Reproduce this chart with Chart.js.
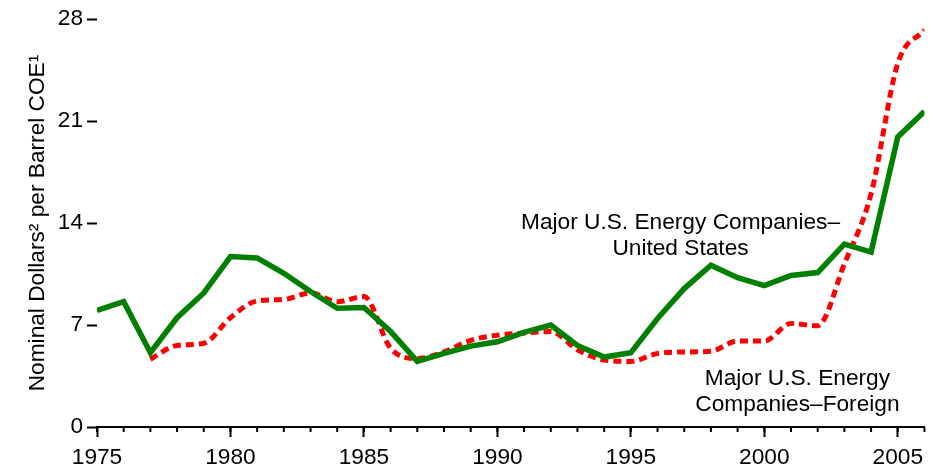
<!DOCTYPE html>
<html>
<head>
<meta charset="utf-8">
<script src="https://cdn.jsdelivr.net/npm/chart.js@4"></script>
<style>
  html, body { margin: 0; padding: 0; background: #fff; }
  #wrap { width: 930px; height: 464px; }
</style>
</head>
<body>
<div id="wrap"><canvas id="costChart" width="930" height="464"></canvas></div>
<script>
// years on the x axis
const years = [1975, 1976, 1977, 1978, 1979, 1980, 1981, 1982, 1983, 1984, 1985,
  1986, 1987, 1988, 1989, 1990, 1991, 1992, 1993, 1994, 1995, 1996, 1997, 1998,
  1999, 2000, 2001, 2002, 2003, 2004, 2005, 2006];

// Major U.S. Energy Companies - United States
const usValues = [8.0, 8.6, 5.1, 7.5, 9.2, 11.7, 11.6, 10.55, 9.3, 8.15, 8.2,
  6.55, 4.5, 5.05, 5.55, 5.85, 6.5, 7.0, 5.6, 4.8, 5.1, 7.45, 9.5, 11.1,
  10.25, 9.7, 10.4, 10.6, 12.55, 12.0, 19.9, 21.65];

// Major U.S. Energy Companies - Foreign (starts 1977)
const foreignValues = [null, null, 4.65, 5.6, 5.75, 7.5, 8.65, 8.75, 9.2, 8.6, 8.95,
  5.4, 4.7, 5.15, 5.95, 6.3, 6.45, 6.55, 5.3, 4.6, 4.5, 5.05, 5.15, 5.2,
  5.9, 5.9, 7.1, 6.95, 11.2, 16.0, 24.95, 27.25];

const yearTicks = [1975, 1980, 1985, 1990, 1995, 2000, 2005];
const valueTicks = [0, 7, 14, 21, 28];

const yTitle = "Nominal Dollars² per Barrel COE¹";
const usLabel = ["Major U.S. Energy Companies–", "United States"];
const foreignLabel = ["Major U.S. Energy", "Companies–Foreign"];

const FONT = "'Liberation Sans', Arial, sans-serif";
const SIZE = 22.7;

// minor year ticks + inline series labels
const extras = {
  id: "extras",
  afterDraw(chart) {
    const x = chart.scales.x, y = chart.scales.y, ctx = chart.ctx;
    ctx.save();
    ctx.strokeStyle = "#000";
    ctx.lineWidth = 2;
    for (let yr = years[0]; yr <= x.max; yr++) {
      const px = x.getPixelForValue(yr);
      ctx.beginPath();
      ctx.moveTo(px, x.top);
      ctx.lineTo(px, x.top + 5);
      ctx.stroke();
    }
    ctx.fillStyle = "#000";
    ctx.font = SIZE + "px " + FONT;
    ctx.textAlign = "center";
    ctx.textBaseline = "alphabetic";
    const drawLines = (lines, cx, cy) => {
      lines.forEach((t, i) => {
        ctx.fillText(t, x.getPixelForValue(cx), y.getPixelForValue(cy) + i * 26);
      });
    };
    drawLines(usLabel, 1996.86, 13.59);
    drawLines(foreignLabel, 2001.24, 2.88);
    ctx.restore();
  }
};

new Chart(document.getElementById("costChart"), {
  type: "line",
  data: {
    datasets: [
      {
        label: "Major U.S. Energy Companies–United States",
        data: years.map((yr, i) => ({ x: yr, y: usValues[i] })),
        borderColor: "#008000",
        borderWidth: 5.5,
        pointRadius: 0,
        tension: 0,
        fill: false,
      },
      {
        label: "Major U.S. Energy Companies–Foreign",
        data: years.map((yr, i) => ({ x: yr, y: foreignValues[i] })),
        borderColor: "#ff0000",
        borderWidth: 5,
        borderDash: [8, 5],
        pointRadius: 0,
        cubicInterpolationMode: "monotone",
        spanGaps: false,
        fill: false,
      },
    ],
  },
  options: {
    responsive: false,
    animation: false,
    layout: { padding: { top: 19, right: 0, left: 0, bottom: 0 } },
    plugins: { legend: { display: false }, tooltip: { enabled: false } },
    scales: {
      x: {
        type: "linear",
        min: 1975,
        max: 2006,
        afterBuildTicks: s => { s.ticks = yearTicks.map(v => ({ value: v })); },
        afterFit: s => { s.height = 37; },
        grid: { drawOnChartArea: false, tickLength: 10, tickWidth: 2, tickColor: "#000" },
        border: { display: true, color: "#000", width: 2 },
        ticks: {
          color: "#000",
          padding: 7,
          maxRotation: 0,
          callback: v => String(v),
          font: { family: FONT, size: SIZE },
        },
      },
      y: {
        min: 0,
        max: 28,
        afterBuildTicks: s => { s.ticks = valueTicks.map(v => ({ value: v })); },
        afterFit: s => { s.width = 97; },
        grid: { drawOnChartArea: false, tickLength: 10, tickWidth: 2, tickColor: "#000" },
        border: { display: false },
        ticks: { color: "#000", padding: 4, font: { family: FONT, size: SIZE } },
        title: {
          display: true,
          text: yTitle,
          color: "#000",
          padding: { top: 24, bottom: 0 },
          font: { family: FONT, size: SIZE },
        },
      },
    },
  },
  plugins: [extras],
});
</script>
</body>
</html>
